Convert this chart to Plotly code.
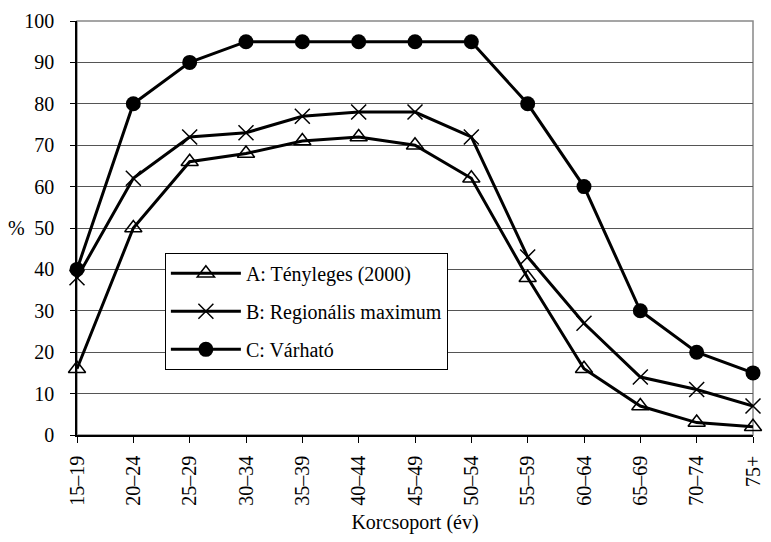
import plotly.graph_objects as go

categories = ["15–19", "20–24", "25–29", "30–34", "35–39", "40–44", "45–49",
              "50–54", "55–59", "60–64", "65–69", "70–74", "75+"]
series_a = [16, 50, 66, 68, 71, 72, 70, 62, 38, 16, 7, 3, 2]
series_b = [38, 62, 72, 73, 77, 78, 78, 72, 43, 27, 14, 11, 7]
series_c = [40, 80, 90, 95, 95, 95, 95, 95, 80, 60, 30, 20, 15]
names = ["A: Tényleges (2000)", "B: Regionális maximum", "C: Várható"]
y_ticks = list(range(0, 101, 10))

FONT = "Liberation Serif"
FS = 20
x_idx = list(range(len(categories)))

fig = go.Figure()
fig.add_trace(go.Scatter(
    x=x_idx, y=series_a, name=names[0], mode="lines+markers", legendgroup="a",
    line=dict(color="black", width=3),
    marker=dict(symbol="triangle-up-open", size=15, color="black", line=dict(width=1.5, color="black")),
    cliponaxis=False))
fig.add_trace(go.Scatter(
    x=x_idx, y=series_b, name=names[1], mode="lines+markers", legendgroup="b",
    line=dict(color="black", width=3),
    marker=dict(symbol="x-thin-open", size=15, color="black", line=dict(width=1.5, color="black")),
    cliponaxis=False))
fig.add_trace(go.Scatter(
    x=x_idx, y=series_c, name=names[2], mode="lines+markers", legendgroup="c",
    line=dict(color="black", width=3),
    marker=dict(symbol="circle", size=15, color="black"),
    cliponaxis=False))

fig.add_shape(type="rect", xref="paper", yref="paper", x0=0, y0=0, x1=1, y1=1,
              line=dict(color="#888888", width=1.5), layer="below")

fig.update_layout(
    width=755, height=526,
    margin=dict(l=69, r=10, t=13, b=99, autoexpand=False),
    paper_bgcolor="white", plot_bgcolor="white",
    font=dict(family=FONT, size=FS, color="black"),
    showlegend=True,
    legend=dict(x=0.13, y=0.44, xanchor="left", yanchor="top",
                bordercolor="black", borderwidth=1, bgcolor="white",
                font=dict(family=FONT, size=FS), tracegroupgap=9,
                itemwidth=70),
    xaxis=dict(range=[0, len(categories) - 1], tickmode="array", tickvals=x_idx,
               ticktext=categories, tickangle=-90, ticks="outside", ticklen=6,
               tickcolor="black", showline=True, linecolor="black", linewidth=1.5,
               showgrid=False, zeroline=False, ticklabeloverflow="allow",
               ticklabelstandoff=5, automargin=False,
               tickfont=dict(family=FONT, size=FS),
               title=dict(text="Korcsoport (év)", font=dict(family=FONT, size=FS), standoff=24)),
    yaxis=dict(range=[0, 100], tickmode="array", tickvals=y_ticks, ticks="outside",
               ticklen=5, tickcolor="black", showline=True, linecolor="black",
               linewidth=1.5, showgrid=True, gridcolor="#555555", gridwidth=1,
               zeroline=False, ticklabelstandoff=12, ticklabeloverflow="allow",
               automargin=False, tickfont=dict(family=FONT, size=FS)),
)
fig.add_annotation(text="%", xref="paper", yref="y", x=0, y=50, xshift=-50,
                   showarrow=False, font=dict(family=FONT, size=FS), xanchor="right")

fig.write_html("out.html")
